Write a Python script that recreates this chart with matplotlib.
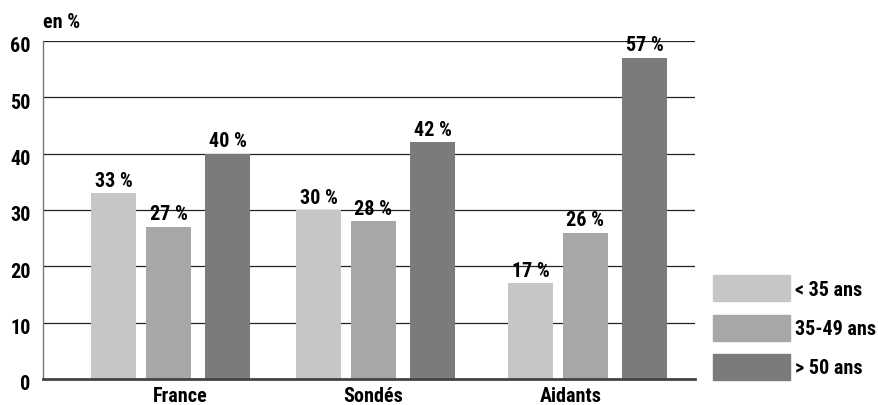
import matplotlib
matplotlib.use("Agg")
import matplotlib.pyplot as plt
from matplotlib.patches import Rectangle
from matplotlib import font_manager
import matplotlib.transforms as mtransforms

# Pick a narrow bold face when one is installed
installed = {f.name for f in font_manager.fontManager.ttflist}
preferred = ['Liberation Sans Narrow', 'Roboto Condensed', 'Open Sans Condensed',
             'Noto Sans Condensed', 'DejaVu Sans Condensed']
narrow = [n for n in preferred if n in installed]
if narrow:
    family = narrow[0]
    fs = 14.5
else:
    family = 'Liberation Sans'
    fs = 12
plt.rcParams['font.family'] = [family, 'DejaVu Sans']
weight = 'heavy'

# Data
categories = ["France", "Sondés", "Aidants"]
series_names = ["< 35 ans", "35-49 ans", "> 50 ans"]
under_35 = [33, 30, 17]
from_35_49 = [27, 28, 26]
over_50 = [40, 42, 57]
y_ticks = [0, 10, 20, 30, 40, 50, 60]
unit_label = "en %"

colors = ["#c5c6c8", "#a6a7a9", "#7a7b7d"]

# Layout (x axis measured in pixel-like units from the left spine)
group_starts = [48, 253, 465]
bar_w = 45
bar_offsets = [0, 55, 114]
label_centers = [137, 330, 528]
x_span = 652

fig = plt.figure(figsize=(8.79, 4.06), dpi=100)
ax = fig.add_axes([43 / 879, 1 - 380 / 406, 652 / 879, 338 / 406])

series = [under_35, from_35_49, over_50]
for s, (vals, col) in enumerate(zip(series, colors)):
    xs = [g0 + bar_offsets[s] for g0 in group_starts]
    ax.bar(xs, vals, width=bar_w, align='edge', color=col, zorder=3)
    for x, v in zip(xs, vals):
        ax.annotate(f"{v} %", (x + bar_w / 2, v), xytext=(0, 2.5), textcoords='offset points',
                    ha='center', va='bottom', fontsize=fs, fontweight=weight, color='black',
                    zorder=4)

ax.set_xlim(0, x_span)
ax.set_ylim(0, 60)

# Horizontal gridlines
for t in y_ticks[1:]:
    ax.axhline(t, color='#222222', lw=0.9, zorder=1)

for side in ['top', 'right']:
    ax.spines[side].set_visible(False)
ax.spines['left'].set_color('#777777')
ax.spines['left'].set_linewidth(1.0)
ax.spines['bottom'].set_color('#444444')
ax.spines['bottom'].set_linewidth(2.0)
ax.spines['bottom'].set_zorder(5)

ax.set_yticks(y_ticks)
ax.set_yticklabels([str(t) for t in y_ticks], fontsize=fs, fontweight=weight)
ax.tick_params(axis='y', length=0, pad=9)
offset = mtransforms.ScaledTranslation(0, -3 / 100, fig.dpi_scale_trans)
for lbl in ax.get_yticklabels():
    lbl.set_transform(lbl.get_transform() + offset)

ax.set_xticks(label_centers)
ax.set_xticklabels(categories, fontsize=fs, fontweight=weight)
ax.tick_params(axis='x', length=0, pad=5)

fig.text(43 / 879, 1 - 23 / 406, unit_label, fontsize=fs, fontweight=weight,
         ha='left', va='center')

# Legend drawn as figure-level patches
legend_tops = [276, 316, 355]
for name, col, top in zip(series_names, colors, legend_tops):
    fig.patches.append(Rectangle((713 / 879, 1 - (top + 26) / 406), 77 / 879, 26 / 406,
                                 transform=fig.transFigure, color=col))
    fig.text(795 / 879, 1 - (top + 14) / 406, name, fontsize=fs, fontweight=weight,
             ha='left', va='center')

fig.savefig("out.png", dpi=100)
